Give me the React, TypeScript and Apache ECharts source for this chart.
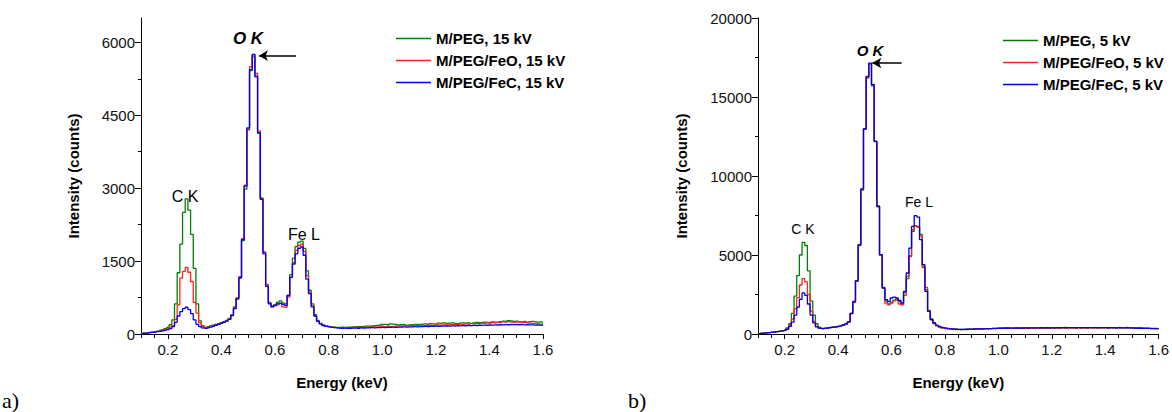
import React, { useEffect, useRef } from "react";
import * as echarts from "echarts";

// Energy bin centres (keV), 0.01 keV channels from 0.10 to 1.60
const ENERGY_KEV: number[] = Array.from({ length: 151 }, (_, i) => Math.round((0.1 + i * 0.01) * 100) / 100);

const X_LABELS = [0.2, 0.4, 0.6, 0.8, 1.0, 1.2, 1.4, 1.6];
const X_MINOR_TICKS = [0.1, 0.15, 0.25, 0.3, 0.35, 0.45, 0.5, 0.55, 0.65, 0.7, 0.75, 0.85, 0.9, 0.95, 1.05, 1.1, 1.15, 1.25, 1.3, 1.35, 1.45, 1.5, 1.55];
const Y_LABELS_A = [0, 1500, 3000, 4500, 6000];
const Y_MINOR_A = [750, 2250, 3750, 5250];
const Y_LABELS_B = [0, 5000, 10000, 15000, 20000];
const Y_MINOR_B = [2500, 7500, 12500, 17500];

const LEGEND_A = ["M/PEG, 15 kV", "M/PEG/FeO, 15 kV", "M/PEG/FeC, 15 kV"];
const LEGEND_B = ["M/PEG, 5 kV", "M/PEG/FeO, 5 kV", "M/PEG/FeC, 5 kV"];

// ---- panel a) 15 kV ----
const A_PEG = [
  10, 18, 25, 32, 40, 50, 60, 72, 88, 108,
  135, 190, 290, 620, 1260, 1850, 2500, 2780, 2550, 2050,
  1350, 620, 270, 170, 140, 150, 165, 180, 200, 215,
  235, 255, 280, 320, 400, 560, 740, 1150, 1920, 2980,
  4200, 5420, 5740, 5310, 4130, 2800, 1680, 1010, 650, 580,
  600, 650, 680, 640, 620, 800, 1220, 1560, 1800, 1890,
  1910, 1760, 1300, 900, 620, 400, 280, 220, 185, 165,
  155, 145, 140, 138, 135, 140, 137, 142, 140, 145,
  148, 150, 152, 155, 160, 163, 165, 170, 175, 180,
  195, 200, 190, 210, 205, 195, 185, 190, 195, 180,
  185, 190, 195, 200, 190, 205, 210, 200, 215, 210,
  205, 225, 215, 230, 220, 225, 230, 220, 215, 225,
  230, 225, 235, 220, 230, 240, 235, 230, 245, 240,
  235, 250, 245, 240, 255, 265, 260, 275, 270, 260,
  265, 255, 250, 260, 245, 255, 260, 250, 245, 250, 240,
];
const A_FEO = [
  12, 18, 24, 30, 38, 46, 55, 65, 78, 92,
  110, 140, 170, 300, 600, 1150, 1290, 1370, 1270, 1080,
  650, 430, 230, 160, 130, 135, 150, 165, 185, 200,
  220, 245, 270, 310, 390, 540, 740, 1180, 1960, 3060,
  4220, 5500, 5700, 5360, 4180, 2790, 1690, 1020, 630, 560,
  580, 600, 630, 560, 550, 760, 1160, 1470, 1720, 1820,
  1850, 1700, 1200, 860, 580, 380, 270, 215, 180, 160,
  150, 142, 135, 130, 128, 132, 126, 130, 134, 132,
  135, 132, 138, 135, 140, 138, 142, 145, 140, 148,
  155, 150, 160, 158, 152, 160, 165, 158, 162, 168,
  165, 170, 168, 172, 165, 175, 178, 170, 180, 175,
  180, 185, 178, 190, 185, 195, 190, 200, 195, 205,
  200, 210, 205, 215, 210, 220, 215, 225, 220, 230,
  225, 235, 230, 240, 235, 250, 245, 255, 245, 240,
  250, 245, 235, 240, 230, 225, 220, 215, 210, 205, 200,
];
const A_FEC = [
  8, 14, 20, 26, 33, 40, 48, 56, 66, 78,
  92, 110, 150, 240, 370, 460, 520, 550, 500, 420,
  290, 200, 150, 125, 115, 125, 140, 160, 180, 200,
  220, 240, 265, 300, 380, 520, 720, 1160, 1940, 3040,
  4240, 5440, 5750, 5290, 4140, 2770, 1650, 980, 620, 560,
  590, 620, 630, 610, 590, 790, 1170, 1440, 1650, 1760,
  1790, 1620, 1130, 830, 560, 370, 260, 210, 175, 155,
  145, 138, 130, 126, 122, 118, 120, 115, 118, 120,
  122, 118, 125, 120, 128, 125, 130, 128, 132, 130,
  135, 132, 138, 135, 140, 138, 142, 140, 145, 142,
  148, 145, 150, 148, 152, 150, 155, 153, 158, 155,
  160, 158, 162, 160, 165, 162, 168, 165, 170, 168,
  172, 170, 175, 172, 178, 175, 180, 178, 182, 180,
  185, 182, 188, 185, 190, 188, 192, 190, 195, 192,
  195, 190, 192, 188, 190, 186, 188, 184, 185, 182, 180,
];

// ---- panel b) 5 kV ----
const B_PEG = [
  30, 45, 60, 75, 90, 110, 130, 155, 180, 210,
  250, 380, 650, 1300, 2400, 3700, 5000, 5800, 5600, 4000,
  2100, 1200, 650, 430, 360, 370, 390, 420, 440, 460,
  490, 530, 580, 650, 780, 1300, 2000, 3350, 5600, 9100,
  12950, 16250, 17100, 15700, 12200, 8100, 5000, 2950, 2100, 1900,
  2000, 2150, 2200, 2050, 1950, 2600, 3500, 4950, 6500, 6850,
  6800, 6300, 4300, 2800, 1500, 950, 700, 540, 450, 390,
  360, 340, 320, 310, 300, 290, 285, 290, 295, 300,
  305, 310, 315, 320, 330, 335, 340, 345, 350, 360,
  380, 370, 385, 400, 390, 375, 380, 370, 385, 375,
  380, 370, 385, 375, 390, 380, 385, 390, 380, 395,
  390, 385, 395, 390, 400, 420, 395, 390, 400, 395,
  400, 395, 405, 390, 400, 395, 410, 400, 395, 405,
  400, 395, 405, 400, 395, 410, 405, 400, 415, 405,
  395, 390, 385, 380, 375, 370, 365, 360, 355, 350, 345,
];
const B_FEO = [
  28, 42, 56, 70, 86, 104, 124, 148, 172, 200,
  235, 330, 560, 950, 1600, 2300, 3100, 3500, 3300, 2500,
  1450, 800, 480, 380, 340, 350, 370, 400, 420, 440,
  470, 510, 560, 630, 760, 1280, 1980, 3380, 5620, 9150,
  12980, 16200, 17100, 15800, 12180, 8050, 4980, 2900, 1950, 1850,
  1950, 2100, 2150, 1900, 1850, 2450, 3650, 4900, 6600, 6850,
  6750, 6200, 4200, 2950, 1450, 900, 660, 510, 420, 370,
  340, 320, 305, 295, 285, 280, 275, 280, 285, 290,
  295, 300, 305, 310, 315, 320, 330, 335, 340, 345,
  350, 355, 360, 355, 365, 360, 370, 365, 360, 370,
  365, 375, 370, 365, 375, 370, 380, 375, 370, 380,
  375, 385, 380, 375, 385, 380, 390, 385, 380, 390,
  385, 380, 390, 385, 395, 390, 385, 395, 390, 385,
  395, 390, 385, 395, 390, 400, 395, 390, 385, 390,
  385, 380, 375, 370, 365, 360, 355, 350, 345, 340, 335,
];
const B_FEC = [
  26, 40, 54, 68, 84, 102, 122, 145, 170, 198,
  230, 300, 480, 750, 1200, 1700, 2200, 2600, 2450, 1900,
  1200, 700, 450, 370, 340, 355, 380, 410, 430, 450,
  480, 520, 570, 640, 770, 1300, 2060, 3370, 5650, 9190,
  12990, 16300, 17150, 15780, 12190, 8080, 5020, 2910, 2170, 2060,
  2280, 2340, 2280, 2130, 1960, 2700, 3860, 5440, 6810, 7490,
  7400, 5970, 4390, 2700, 1430, 905, 695, 545, 480, 420,
  380, 350, 330, 315, 300, 295, 290, 295, 300, 305,
  310, 315, 320, 325, 330, 335, 340, 345, 350, 355,
  360, 365, 370, 365, 375, 370, 375, 380, 375, 380,
  385, 380, 385, 390, 385, 390, 395, 390, 395, 390,
  395, 390, 400, 395, 400, 395, 400, 405, 400, 395,
  400, 405, 400, 395, 400, 405, 400, 395, 400, 405,
  400, 395, 400, 395, 390, 395, 390, 385, 390, 385,
  380, 375, 370, 365, 360, 355, 350, 345, 340, 335, 330,
];

const FONT = "Liberation Sans, Arial, sans-serif";
const GREEN = "#008000";
const RED = "#ff2020";
const BLUE_A = "#0000ff";
const BLUE_B = "#0000e0";

function xAxes(grid: number, withName: boolean) {
  return [
    {
      type: "value", gridIndex: grid, position: "bottom", min: 0.1, max: 1.6,
      axisLine: { show: true, onZero: false, lineStyle: { color: "#000", width: 1 } },
      axisTick: { show: true, customValues: X_LABELS, length: 5, lineStyle: { color: "#000" } },
      axisLabel: { show: true, customValues: X_LABELS, formatter: (v: number) => v.toFixed(1), color: "#111", fontSize: 15, fontFamily: FONT, margin: 8 },
      splitLine: { show: false },
      name: withName ? "Energy (keV)" : "", nameLocation: "middle", nameGap: 41,
      nameTextStyle: { fontWeight: "bold", fontSize: 15, color: "#000", fontFamily: FONT },
    },
    {
      type: "value", gridIndex: grid, position: "bottom", min: 0.1, max: 1.6,
      axisLine: { show: false, onZero: false },
      axisTick: { show: true, customValues: X_MINOR_TICKS, length: 4, lineStyle: { color: "#000" } },
      axisLabel: { show: false },
      splitLine: { show: false },
    },
  ];
}

function yAxes(grid: number, max: number, labels: number[], minor: number[], nameGap: number) {
  return [
    {
      type: "value", gridIndex: grid, position: "left", min: 0, max,
      axisLine: { show: true, lineStyle: { color: "#000", width: 1 } },
      axisTick: { show: true, customValues: labels, length: 6, lineStyle: { color: "#000" } },
      axisLabel: { show: true, customValues: labels, formatter: (v: number) => String(Math.round(v)), color: "#111", fontSize: 15, fontFamily: FONT, margin: 6 },
      splitLine: { show: false },
      name: "Intensity (counts)", nameLocation: "middle", nameGap,
      nameTextStyle: { fontWeight: "bold", fontSize: 15, color: "#000", fontFamily: FONT },
    },
    {
      type: "value", gridIndex: grid, position: "left", min: 0, max,
      axisLine: { show: false },
      axisTick: { show: true, customValues: minor, length: 3, lineStyle: { color: "#000" } },
      axisLabel: { show: false },
      splitLine: { show: false },
    },
  ];
}

function stepSeries(name: string, values: number[], color: string, xi: number, yi: number, extra: any = {}) {
  return {
    name, type: "line", step: "middle", xAxisIndex: xi, yAxisIndex: yi,
    symbol: "none", showSymbol: false,
    lineStyle: { color, width: 1.3 }, itemStyle: { color },
    data: ENERGY_KEV.map((e, i) => [e, values[i]]),
    ...extra,
  };
}

function arrow(from: [number, number], to: [number, number]) {
  return {
    silent: true, symbol: ["none", "arrow"], symbolSize: [8, 9],
    lineStyle: { color: "#000", width: 1.5, type: "solid" },
    label: { show: false },
    data: [[{ coord: from }, { coord: to }]],
  };
}

function legend(names: string[], left: number, top: number) {
  return {
    data: names, orient: "vertical", left, top, itemWidth: 35, itemHeight: 14, itemGap: 7,
    icon: "path://M0,0 L35,0 L35,1.3 L0,1.3 Z",
    selectedMode: false,
    textStyle: { fontWeight: "bold", fontSize: 15, color: "#000", fontFamily: FONT, padding: [0, 0, 0, 0] },
  };
}

function txt(text: string, x: number, y: number, size: number, weight = "normal", style = "normal", family = FONT) {
  return {
    type: "text", x, y,
    style: { text, fill: "#000", font: `${style} ${weight} ${size}px ${family}`, textAlign: "center", textVerticalAlign: "middle" },
  };
}

export default function App() {
  const ref = useRef<HTMLDivElement>(null);
  useEffect(() => {
    const chart = echarts.init(ref.current!, null, { renderer: "svg" });
    const option: any = {
      animation: false,
      backgroundColor: "#fff",
      textStyle: { fontFamily: FONT },
      grid: [
        { left: 141, right: 629, top: 18, bottom: 78 },
        { left: 758, right: 13, top: 18, bottom: 78 },
      ],
      xAxis: [...xAxes(0, true), ...xAxes(1, true)],
      yAxis: [
        ...yAxes(0, 6500, Y_LABELS_A, Y_MINOR_A, 60),
        ...yAxes(1, 20000, Y_LABELS_B, Y_MINOR_B, 69),
      ],
      legend: [legend(LEGEND_A, 391, 26), legend(LEGEND_B, 998, 28)],
      series: [
        stepSeries(LEGEND_A[0], A_PEG, GREEN, 0, 0),
        stepSeries(LEGEND_A[1], A_FEO, RED, 0, 0),
        stepSeries(LEGEND_A[2], A_FEC, BLUE_A, 0, 0, { markLine: arrow([0.678, 5725], [0.54, 5725]) }),
        stepSeries(LEGEND_B[0], B_PEG, GREEN, 2, 2),
        stepSeries(LEGEND_B[1], B_FEO, RED, 2, 2),
        stepSeries(LEGEND_B[2], B_FEC, BLUE_B, 2, 2, { markLine: arrow([0.638, 17150], [0.528, 17150]) }),
      ],
      graphic: [
        txt("O K", 248, 38, 17, "bold", "italic"),
        txt("C K", 185, 196, 16),
        txt("Fe L", 304, 234, 16),
        txt("O K", 870, 50, 15, "bold", "italic"),
        txt("C K", 803, 229, 14),
        txt("Fe L", 919, 202, 14),
        { type: "text", x: 2, y: 400, style: { text: "a)", fill: "#000", font: "normal 22px Liberation Serif, serif", textVerticalAlign: "middle" } },
        { type: "text", x: 628, y: 400, style: { text: "b)", fill: "#000", font: "normal 22px Liberation Serif, serif", textVerticalAlign: "middle" } },
      ],
    };
    chart.setOption(option);
    return () => chart.dispose();
  }, []);
  return <div ref={ref} style={{ position: "absolute", left: 0, top: 0, width: 1172, height: 412, background: "#fff" }} />;
}
